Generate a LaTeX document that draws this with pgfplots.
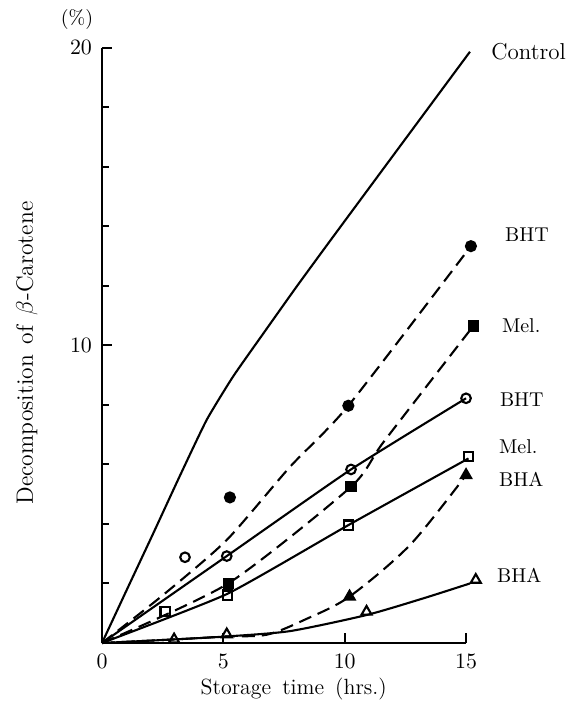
\documentclass[border=0pt]{standalone}
\usepackage{pgfplots}
\pgfplotsset{compat=1.18}
\begin{document}
\begin{tikzpicture}
\useasboundingbox (-51pt,-34pt) rectangle (237.5pt,321.5pt);
\begin{axis}[
  at={(0pt,0pt)}, anchor=south west,
  x=12.135pt, y=14.885pt,
  xmin=0, xmax=15, ymin=0, ymax=20,
  axis lines=left,
  axis line style={-, line width=1pt},
  xtick={0,5,10,15}, ytick={10,20},
  minor ytick={2,4,6,8,12,14,16,18},
  tick align=inside,
  major tick length=5pt, minor tick length=3.5pt,
  tick style={line width=1pt, black},
  xticklabel style={font=\fontsize{10.5}{12}\selectfont, yshift=-2pt},
  yticklabel style={font=\fontsize{10.5}{12}\selectfont, xshift=-1.5pt},
  clip=false,
  every axis plot/.append style={line width=1.05pt, black},
]
% Control
\addplot[smooth, tension=0.3] coordinates {(0,0) (1,1.75) (2.11,3.68) (3.2,5.6) (4.31,7.49) (5.4,8.95) (6.65,10.4) (8,11.95) (9.39,13.5) (12.2,16.6) (15.16,19.86)};
% BHT filled (dashed)
\addplot[smooth, tension=0.4, dash pattern=on 6.5pt off 3.5pt] coordinates {(0,0) (2.5,1.6) (5.14,3.46) (7.75,5.92) (10.15,7.97) (15.2,13.33)};
% Mel filled (dashed)
\addplot[smooth, tension=0.4, dash pattern=on 6.5pt off 3.5pt] coordinates {(0,0) (5.2,2.0) (10.26,5.25) (11.6,6.75) (15.3,10.65)};
% BHT open (solid)
\addplot[smooth, tension=0.3] coordinates {(0,0) (5.14,2.92) (10.26,5.83) (15.0,8.22)};
% Mel open (solid)
\addplot[smooth, tension=0.3] coordinates {(0,0) (5.16,1.65) (10.15,3.96) (15.1,6.2)};
% BHA filled (dashed)
\addplot[smooth, tension=0.5, dash pattern=on 6.5pt off 3.5pt] coordinates {(0,0) (2.97,0.12) (5.14,0.22) (6.8,0.28) (8.4,0.8) (10.2,1.56) (12.7,3.3) (15.0,5.64)};
% BHA open (solid)
\addplot[smooth, tension=0.4] coordinates {(0,0) (2.97,0.12) (5.14,0.22) (7.75,0.4) (10.9,0.94) (13.24,1.5) (15.16,2.0)};
% markers
\addplot[only marks, mark=*, mark size=2.5pt] coordinates {(5.27,4.89) (10.15,7.97) (15.2,13.33)};
\addplot[only marks, mark=square*, mark size=2.3pt] coordinates {(5.2,2.0) (10.26,5.25) (15.3,10.65)};
\addplot[only marks, mark=o, mark size=2.4pt, mark options={fill=white}] coordinates {(3.42,2.88) (5.14,2.92) (10.26,5.83) (15.0,8.22)};
\addplot[only marks, mark=square, mark size=2.3pt, mark options={fill=white}] coordinates {(2.6,1.05) (5.16,1.61) (10.15,3.96) (15.1,6.26)};
\addplot[only marks, mark=triangle*, mark size=2.9pt] coordinates {(10.2,1.56) (15.0,5.64)};
\addplot[only marks, mark=triangle, mark size=2.9pt, mark options={fill=white}] coordinates {(2.97,0.12) (5.14,0.29) (10.9,1.05) (15.4,2.12)};
% labels
\node[anchor=west, font=\fontsize{11.5}{13}\selectfont] at (axis cs:15.75,19.85) {Control};
\node[anchor=west] at (axis cs:16.32,13.7) {BHT};
\node[anchor=west] at (axis cs:16.19,10.65) {Mel.};
\node[anchor=west] at (axis cs:16.11,8.16) {BHT};
\node[anchor=west] at (axis cs:16.07,6.58) {Mel.};
\node[anchor=west] at (axis cs:16.07,5.51) {BHA};
\node[anchor=west] at (axis cs:15.99,2.28) {BHA};
\node at (axis cs:-1.03,20.93) {(\%)};
\node[font=\fontsize{11}{13}\selectfont] at (axis cs:7.9,-1.55) {Storage\hspace{0.5em}time\hspace{0.5em}(hrs.)};
\node[rotate=90, font=\fontsize{11.8}{14}\selectfont] at (axis cs:-3.1,9.74) {Decomposition\hspace{0.45em}of\hspace{0.45em}$\beta$-Carotene};
\end{axis}
\end{tikzpicture}
\end{document}
